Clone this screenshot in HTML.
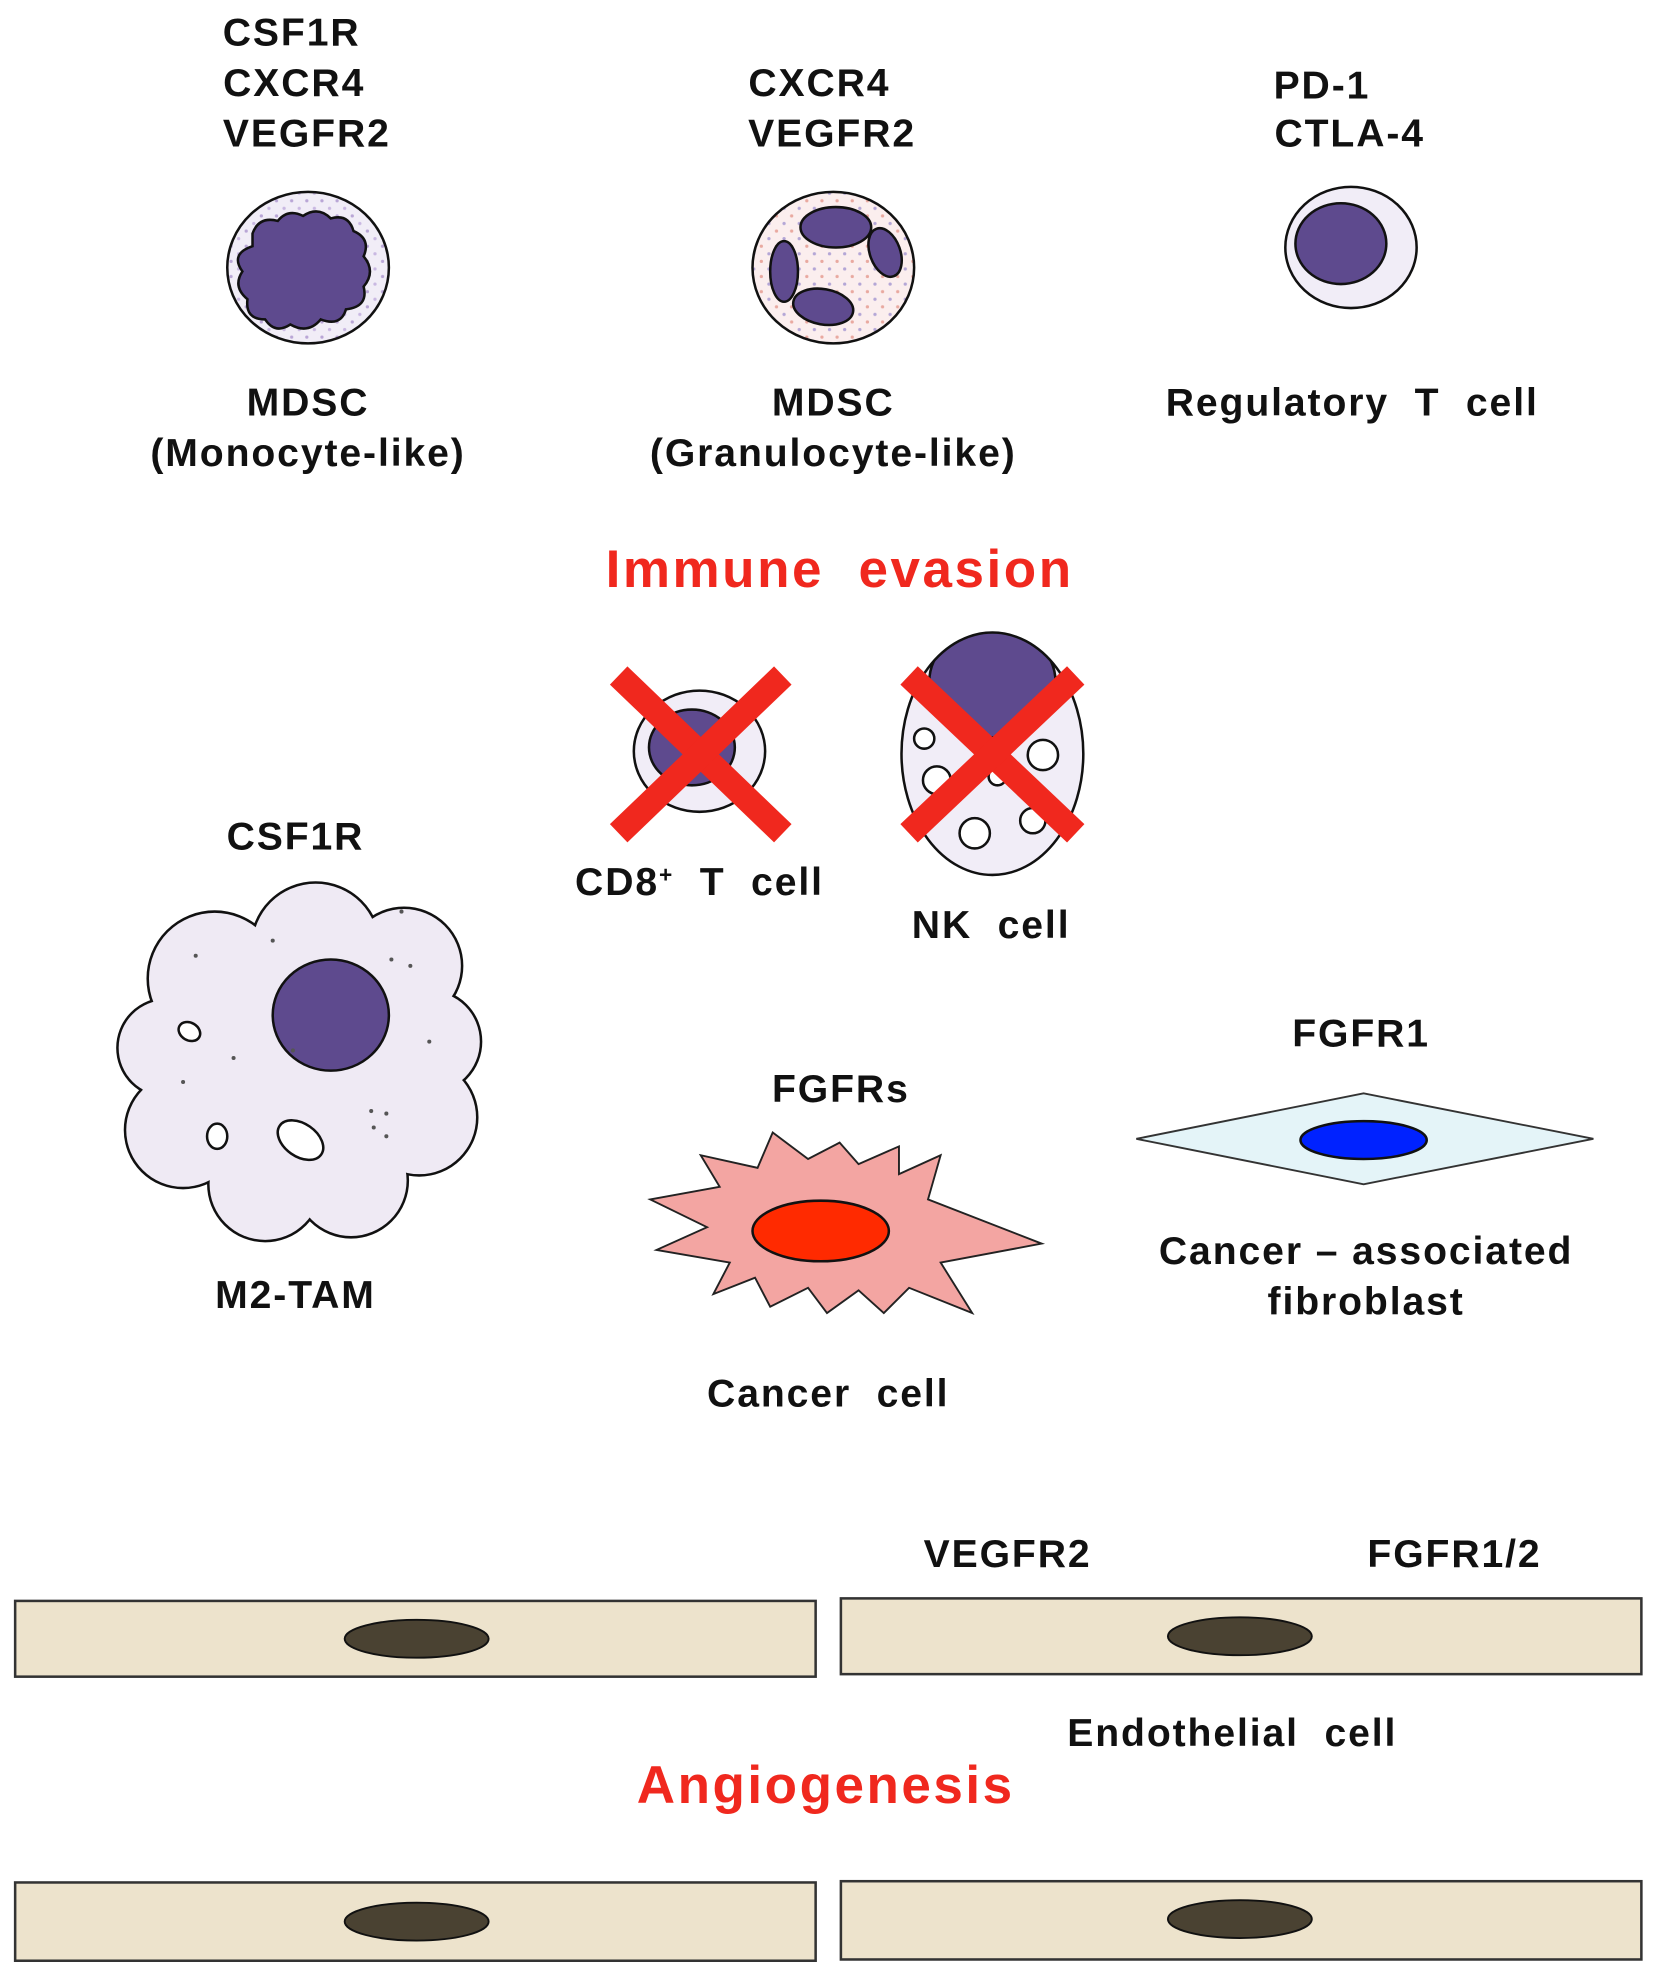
<!DOCTYPE html>
<html><head><meta charset="utf-8"><style>
html,body{margin:0;padding:0;background:#fff;}
svg{display:block}
text{font-family:"Liberation Sans",Arial,sans-serif;font-weight:bold;fill:#111;text-anchor:middle;white-space:pre;letter-spacing:1.5px;}
</style></head><body>
<svg width="1654" height="1974" viewBox="0 0 1310 1563.5" preserveAspectRatio="none" xmlns="http://www.w3.org/2000/svg">
<defs>
<pattern id="dots1" width="12" height="12" patternUnits="userSpaceOnUse"><rect width="12" height="12" fill="#f1edf7"/><circle cx="3" cy="3" r="1.3" fill="#b9a6d6"/><circle cx="9" cy="9" r="1.3" fill="#c9b8e2"/></pattern>
<pattern id="dots2" width="12" height="12" patternUnits="userSpaceOnUse"><rect width="12" height="12" fill="#fbeeee"/><circle cx="3" cy="3" r="1.3" fill="#e9a9a0"/><circle cx="9" cy="9" r="1.3" fill="#b4a6d6"/></pattern>
</defs>
<g font-size="31">
<text x="231" y="36">CSF1R</text>
<text x="233" y="76">CXCR4</text>
<text x="243" y="116">VEGFR2</text>
<text x="649" y="76">CXCR4</text>
<text x="659" y="116">VEGFR2</text>
<text x="1047" y="78">PD-1</text>
<text x="1069" y="116">CTLA-4</text>
</g>
<ellipse cx="244" cy="212" rx="64" ry="60" fill="url(#dots1)" stroke="#111" stroke-width="2"/>
<path d="M200 185 q5-14 20-10 q8-10 20-4 q12-8 22 2 q14-4 18 10 q14 6 8 20 q10 12 0 24 q4 16-14 18 q-4 14-20 8 q-10 12-24 4 q-12 8-20-4 q-16 0-14-16 q-12-10-4-22 q-10-14 8-20 z" fill="#5e4a8e" stroke="#111" stroke-width="2"/>
<ellipse cx="660" cy="212" rx="64" ry="60" fill="url(#dots2)" stroke="#111" stroke-width="2"/>
<ellipse cx="662" cy="180" rx="28" ry="16" fill="#5e4a8e" stroke="#111" stroke-width="2"/>
<ellipse cx="701" cy="200" rx="12" ry="20" transform="rotate(-20 701 200)" fill="#5e4a8e" stroke="#111" stroke-width="2"/>
<ellipse cx="621" cy="215" rx="11" ry="24" fill="#5e4a8e" stroke="#111" stroke-width="2"/>
<ellipse cx="652" cy="243" rx="24" ry="14" transform="rotate(10 652 243)" fill="#5e4a8e" stroke="#111" stroke-width="2"/>
<ellipse cx="1070" cy="196" rx="52" ry="48" fill="#f1edf7" stroke="#111" stroke-width="2"/>
<ellipse cx="1062" cy="193" rx="36" ry="32" fill="#5e4a8e" stroke="#111" stroke-width="2"/>
<g font-size="31">
<text x="244" y="329">MDSC</text>
<text x="244" y="369">(Monocyte-like)</text>
<text x="660" y="329">MDSC</text>
<text x="660" y="369">(Granulocyte-like)</text>
<text x="1071" y="329">Regulatory  T  cell</text>
</g>
<text x="665" y="465" font-size="42" style="fill:#f0281e;letter-spacing:2px">Immune  evasion</text>
<ellipse cx="554" cy="595" rx="52" ry="48" fill="#f1edf7" stroke="#111" stroke-width="2"/>
<ellipse cx="548" cy="592" rx="34" ry="30" fill="#5e4a8e" stroke="#111" stroke-width="2"/>
<clipPath id="nkc"><ellipse cx="786" cy="597" rx="72" ry="96"/></clipPath>
<ellipse cx="786" cy="597" rx="72" ry="96" fill="#f1edf7"/>
<ellipse cx="786" cy="540" rx="50" ry="44" fill="#5e4a8e" stroke="#111" stroke-width="2" clip-path="url(#nkc)"/>
<ellipse cx="786" cy="597" rx="72" ry="96" fill="none" stroke="#111" stroke-width="2"/>
<g fill="#fff" stroke="#111" stroke-width="2">
<circle cx="732" cy="585" r="8"/><circle cx="742" cy="618" r="11"/><circle cx="826" cy="598" r="12"/><circle cx="790" cy="615" r="7"/><circle cx="772" cy="660" r="12"/><circle cx="818" cy="650" r="10"/>
</g>
<g stroke="#f0281e" stroke-width="20">
<line x1="490" y1="535" x2="620" y2="660"/><line x1="620" y1="535" x2="490" y2="660"/>
<line x1="720" y1="535" x2="852" y2="660"/><line x1="852" y1="535" x2="720" y2="660"/>
</g>
<text x="554" y="709" font-size="31">CD8<tspan font-size="18" dy="-10">+</tspan><tspan dy="10">  T  cell</tspan></text>
<text x="785" y="743" font-size="31">NK  cell</text>
<text x="234" y="673" font-size="31">CSF1R</text>
<g fill="#efeaf4" stroke="#111" stroke-width="4">
<circle cx="170" cy="775" r="52"/><circle cx="250" cy="750" r="50"/><circle cx="320" cy="765" r="45"/><circle cx="340" cy="825" r="40"/><circle cx="332" cy="885" r="45"/><circle cx="278" cy="935" r="44"/><circle cx="210" cy="938" r="44"/><circle cx="145" cy="895" r="45"/><circle cx="132" cy="830" r="38"/><circle cx="200" cy="840" r="90"/><circle cx="270" cy="840" r="90"/>
</g>
<g fill="#efeaf4">
<circle cx="170" cy="775" r="52"/><circle cx="250" cy="750" r="50"/><circle cx="320" cy="765" r="45"/><circle cx="340" cy="825" r="40"/><circle cx="332" cy="885" r="45"/><circle cx="278" cy="935" r="44"/><circle cx="210" cy="938" r="44"/><circle cx="145" cy="895" r="45"/><circle cx="132" cy="830" r="38"/><circle cx="200" cy="840" r="90"/><circle cx="270" cy="840" r="90"/>
</g>
<ellipse cx="262" cy="804" rx="46" ry="44" fill="#5e4a8e" stroke="#111" stroke-width="2"/>
<g fill="#fff" stroke="#111" stroke-width="2">
<ellipse cx="150" cy="817" rx="9" ry="7" transform="rotate(30 150 817)"/>
<ellipse cx="172" cy="900" rx="8" ry="10"/>
<ellipse cx="238" cy="903" rx="20" ry="13" transform="rotate(35 238 903)"/>
</g>
<g fill="#555"><circle cx="155" cy="757" r="1.6"/><circle cx="216" cy="745" r="1.6"/><circle cx="318" cy="722" r="1.6"/><circle cx="310" cy="760" r="1.6"/><circle cx="325" cy="765" r="1.6"/><circle cx="232" cy="832" r="1.6"/><circle cx="185" cy="838" r="1.6"/><circle cx="145" cy="857" r="1.6"/><circle cx="340" cy="825" r="1.6"/><circle cx="294" cy="880" r="1.6"/><circle cx="306" cy="882" r="1.6"/><circle cx="296" cy="893" r="1.6"/><circle cx="306" cy="900" r="1.6"/></g>
<text x="234" y="1036" font-size="31">M2-TAM</text>
<text x="666" y="873" font-size="31">FGFRs</text>
<polygon points="515,950 570,940 555,915 600,925 612,897 640,918 665,905 680,922 712,908 712,930 745,915 735,950 825,985 745,1000 770,1040 720,1020 700,1040 680,1022 655,1040 640,1020 610,1035 598,1012 565,1025 578,1000 520,990 560,972" fill="#f3a5a2" stroke="#222" stroke-width="1.5"/>
<ellipse cx="650" cy="975" rx="54" ry="24" fill="#ff2a00" stroke="#111" stroke-width="2"/>
<text x="656" y="1114" font-size="31">Cancer  cell</text>
<text x="1078" y="829" font-size="31">FGFR1</text>
<polygon points="900,902 1080,866 1262,902 1080,938" fill="#e4f4f8" stroke="#333" stroke-width="1.5"/>
<ellipse cx="1080" cy="903" rx="50" ry="15" fill="#0022ff" stroke="#111" stroke-width="2"/>
<text x="1082" y="1001" font-size="31">Cancer – associated</text>
<text x="1082" y="1041" font-size="31">fibroblast</text>
<text x="798" y="1241" font-size="31">VEGFR2</text>
<text x="1152" y="1241" font-size="31">FGFR1/2</text>
<g fill="#ede3cc" stroke="#333" stroke-width="2">
<rect x="12" y="1268" width="634" height="60"/><rect x="666" y="1266" width="634" height="60"/>
<rect x="12" y="1491" width="634" height="62"/><rect x="666" y="1490" width="634" height="62"/>
</g>
<g fill="#4a4232" stroke="#111" stroke-width="1.5">
<ellipse cx="330" cy="1298" rx="57" ry="15"/><ellipse cx="982" cy="1296" rx="57" ry="15"/>
<ellipse cx="330" cy="1522" rx="57" ry="15"/><ellipse cx="982" cy="1520" rx="57" ry="15"/>
</g>
<text x="976" y="1383" font-size="31">Endothelial  cell</text>
<text x="654" y="1428" font-size="42" style="fill:#f0281e;letter-spacing:2px">Angiogenesis</text>
</svg>
</body></html>
